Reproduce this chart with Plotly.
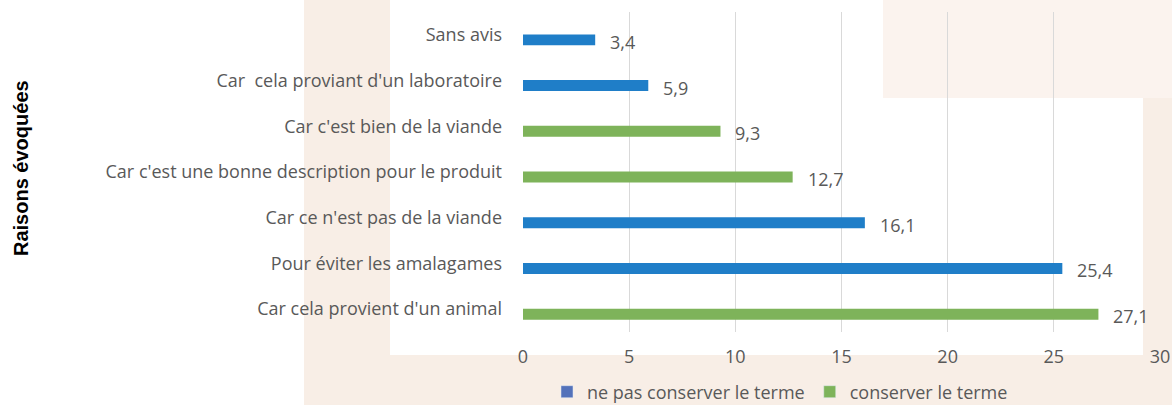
import plotly.graph_objects as go

categories = [
    "Sans avis",
    "Car  cela proviant d'un laboratoire",
    "Car c'est bien de la viande",
    "Car c'est une bonne description pour le produit",
    "Car ce n'est pas de la viande",
    "Pour éviter les amalagames",
    "Car cela provient d'un animal",
]
values = [3.4, 5.9, 9.3, 12.7, 16.1, 25.4, 27.1]
groups = ["ne pas conserver le terme", "ne pas conserver le terme", "conserver le terme",
          "conserver le terme", "ne pas conserver le terme", "ne pas conserver le terme",
          "conserver le terme"]
series_names = ["ne pas conserver le terme", "conserver le terme"]
bar_colors = {"ne pas conserver le terme": "#1F7EC8", "conserver le terme": "#7EB35A"}
legend_colors = {"ne pas conserver le terme": "#5472BA", "conserver le terme": "#7EB35A"}
x_ticks = [0, 5, 10, 15, 20, 25, 30]
axis_title = "Raisons évoquées"

W, H = 1172, 405
L, R, T, B = 523, 1160, 12, 332  # plot area in pixels

def px(x):
    return (x - L) / (R - L)

def py(y):
    return (B - y) / (B - T)

FONT = "Open Sans"
FS = 18
GREY = "#595959"
BEIGE = "#F8EEE6"

fig = go.Figure()
for s in series_names:
    xs = [v if g == s else None for v, g in zip(values, groups)]
    fig.add_trace(go.Bar(
        x=xs, y=categories, orientation="h", name=s,
        marker=dict(color=bar_colors[s], line=dict(width=0)),
        width=0.24, offset=-0.01, showlegend=False,
    ))
for s in series_names:
    fig.add_trace(go.Bar(
        x=[None], y=[categories[0]], orientation="h", name=s,
        marker=dict(color=legend_colors[s]), showlegend=True,
    ))

annotations = []
for c, v in zip(categories, values):
    annotations.append(dict(
        x=v, y=c, xref="x", yref="y", text=f"{v:.1f}".replace(".", ","),
        showarrow=False, xanchor="left", xshift=13, yshift=-7,
        font=dict(family=FONT, size=FS, color=GREY),
    ))
annotations.append(dict(
    x=px(21), y=py(168), xref="paper", yref="paper", text=f"<b>{axis_title}</b>",
    textangle=-90, showarrow=False, xanchor="center", yanchor="middle",
    font=dict(family="Liberation Sans", size=20, color="#000000"),
))

shapes = []
def rect(x0, y0, x1, y1, color=BEIGE):
    shapes.append(dict(type="rect", xref="paper", yref="paper",
                       x0=px(x0), x1=px(x1), y0=py(y1), y1=py(y0),
                       fillcolor=color, line=dict(width=0), layer="below"))
rect(304, 0, 390, 405)
rect(304, 355, 1172, 405)
rect(1143, 0, 1172, 405)
rect(883, 0, 1172, 98, "#FBF3EE")

fig.update_layout(
    width=W, height=H,
    margin=dict(l=L, r=W - R, t=T, b=H - B, pad=0, autoexpand=False),
    paper_bgcolor="white", plot_bgcolor="rgba(0,0,0,0)",
    barmode="overlay",
    separators=", ",
    font=dict(family=FONT, size=FS, color=GREY),
    xaxis=dict(range=[0, 30], tickvals=x_ticks, showgrid=True, gridcolor="#D9D9D9",
               gridwidth=1, zeroline=False, showline=False, ticks="",
               ticklabelstandoff=12, tickfont=dict(family=FONT, size=FS, color=GREY),
               fixedrange=True),
    yaxis=dict(categoryorder="array", categoryarray=categories, autorange="reversed",
               showgrid=False, zeroline=False, showline=False, ticks="",
               ticklabelstandoff=20, tickfont=dict(family=FONT, size=FS, color=GREY)),
    legend=dict(orientation="h", x=px(780), xanchor="center", y=py(392), yanchor="middle",
                font=dict(family=FONT, size=FS, color=GREY), bgcolor="rgba(0,0,0,0)",
                itemwidth=30, tracegroupgap=0),
    annotations=annotations,
    shapes=shapes,
)

fig.write_html("out.html", config={"displayModeBar": False},
               post_script="document.body.style.margin='0px';")
